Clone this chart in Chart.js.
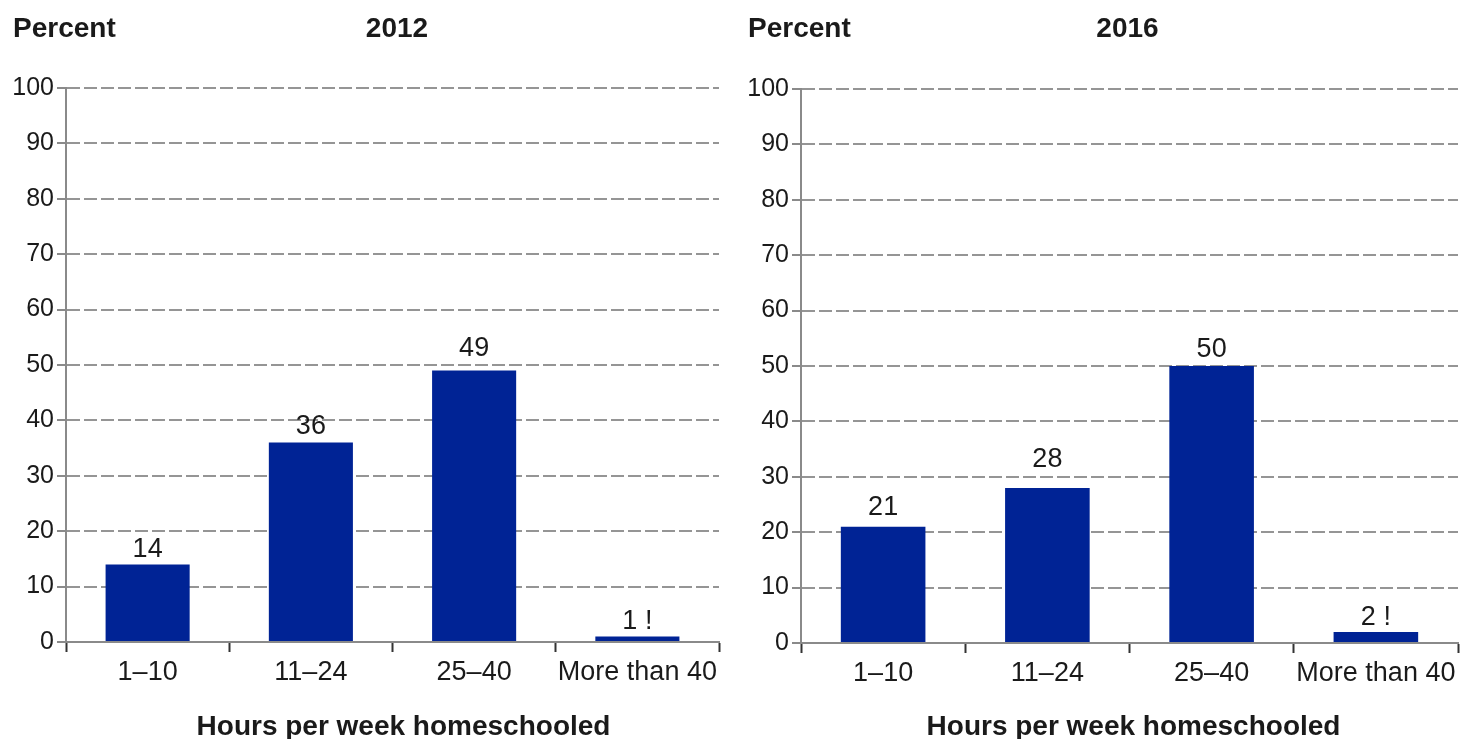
<!DOCTYPE html>
<html>
<head>
<meta charset="utf-8">
<script src="https://cdn.jsdelivr.net/npm/chart.js@4/dist/chart.umd.min.js"></script>
<style>
  html, body { margin: 0; padding: 0; background: #ffffff; }
  body { width: 1463px; height: 739px; position: relative; overflow: hidden; }
  .panel { position: absolute; top: 0; height: 739px; }
</style>
</head>
<body>
<div class="panel" style="left:0;width:731px;"><canvas id="c2012"></canvas></div>
<div class="panel" style="left:731px;width:732px;"><canvas id="c2016"></canvas></div>
<script>
// ---- Data ----
const categories = ['1–10', '11–24', '25–40', 'More than 40'];
const values2012 = [14, 36, 49, 1];
const values2016 = [21, 28, 50, 2];
const valueLabels2012 = ['14', '36', '49', '1 !'];
const valueLabels2016 = ['21', '28', '50', '2 !'];
const yMin = 0;
const yMax = 100;
const yStep = 10;
const yAxisTitle = 'Percent';
const xAxisTitle = 'Hours per week homeschooled';
const panelTitles = ['2012', '2016'];

// ---- Styles ----
const FONT = '"Liberation Sans", Arial, Helvetica, sans-serif';
const BAR_COLOR = '#002395';
const TEXT_COLOR = '#1a1a1a';
const GRID_COLOR = '#959595';
const AXIS_COLOR = '#8a8a8a';

const textPlugin = {
  id: 'textPlugin',
  afterDatasetsDraw(chart, args, opts) {
    const ctx = chart.ctx;
    const area = chart.chartArea;
    ctx.save();
    // value labels above bars
    ctx.font = '27px ' + FONT;
    ctx.fillStyle = TEXT_COLOR;
    ctx.textAlign = 'center';
    ctx.textBaseline = 'alphabetic';
    const meta = chart.getDatasetMeta(0);
    meta.data.forEach((bar, i) => {
      ctx.fillText(opts.valueLabels[i], bar.x, bar.y - opts.labelGaps[i]);
    });
    // titles
    ctx.font = 'bold 28px ' + FONT;
    ctx.textAlign = 'left';
    ctx.fillText(opts.yTitle, area.left - 53, 37);
    ctx.textAlign = 'center';
    const mid = (area.left + area.right) / 2;
    ctx.fillText(opts.panelTitle, mid + opts.titleShift, 37);
    ctx.fillText(opts.xTitle, mid + opts.xTitleShift, 735);
    ctx.restore();
  }
};

function makeChart(id, values, labels, title, cfg) {
  return new Chart(document.getElementById(id), {
    type: 'bar',
    data: {
      labels: categories,
      datasets: [{
        data: values,
        backgroundColor: BAR_COLOR,
        borderWidth: 0,
        barPercentage: 0.515,
        categoryPercentage: 1.0
      }]
    },
    options: {
      responsive: true,
      maintainAspectRatio: false,
      animation: false,
      layout: { padding: { left: 0, right: cfg.padRight, top: cfg.padTop, bottom: 0 } },
      plugins: {
        legend: { display: false },
        tooltip: { enabled: false },
        title: { display: false },
        textPlugin: {
          valueLabels: labels,
          labelGaps: cfg.labelGaps,
          yTitle: yAxisTitle,
          xTitle: xAxisTitle,
          panelTitle: title,
          titleShift: cfg.titleShift,
          xTitleShift: cfg.xTitleShift
        }
      },
      scales: {
        x: {
          type: 'category',
          offset: true,
          grid: {
            offset: true,
            drawOnChartArea: false,
            drawTicks: true,
            tickLength: 10,
            tickColor: '#333333',
            tickWidth: 2
          },
          border: { display: true, color: AXIS_COLOR, width: 2 },
          ticks: {
            font: { family: FONT, size: 27 },
            color: TEXT_COLOR,
            padding: 4,
            maxRotation: 0,
            autoSkip: false
          },
          afterFit(scale) { scale.height = cfg.xHeight; }
        },
        y: {
          min: yMin,
          max: yMax,
          ticks: {
            stepSize: yStep,
            font: { family: FONT, size: 25 },
            color: TEXT_COLOR,
            padding: 3
          },
          grid: {
            color: GRID_COLOR,
            lineWidth: 2,
            drawTicks: true,
            tickLength: 9,
            tickColor: AXIS_COLOR,
            tickWidth: 2
          },
          border: { display: true, color: AXIS_COLOR, width: 2, dash: [13, 4] },
          afterFit(scale) { scale.width = cfg.yWidth; }
        }
      }
    },
    plugins: [textPlugin]
  });
}

makeChart('c2012', values2012, valueLabels2012, panelTitles[0],
  { padRight: 12, padTop: 88, xHeight: 97, yWidth: 66, titleShift: 4.5, xTitleShift: 11,
    labelGaps: [7, 9, 15, 7] });
makeChart('c2016', values2016, valueLabels2016, panelTitles[1],
  { padRight: 5, padTop: 89, xHeight: 96, yWidth: 70, titleShift: -2, xTitleShift: 4,
    labelGaps: [12, 21, 9, 7] });
</script>
</body>
</html>
